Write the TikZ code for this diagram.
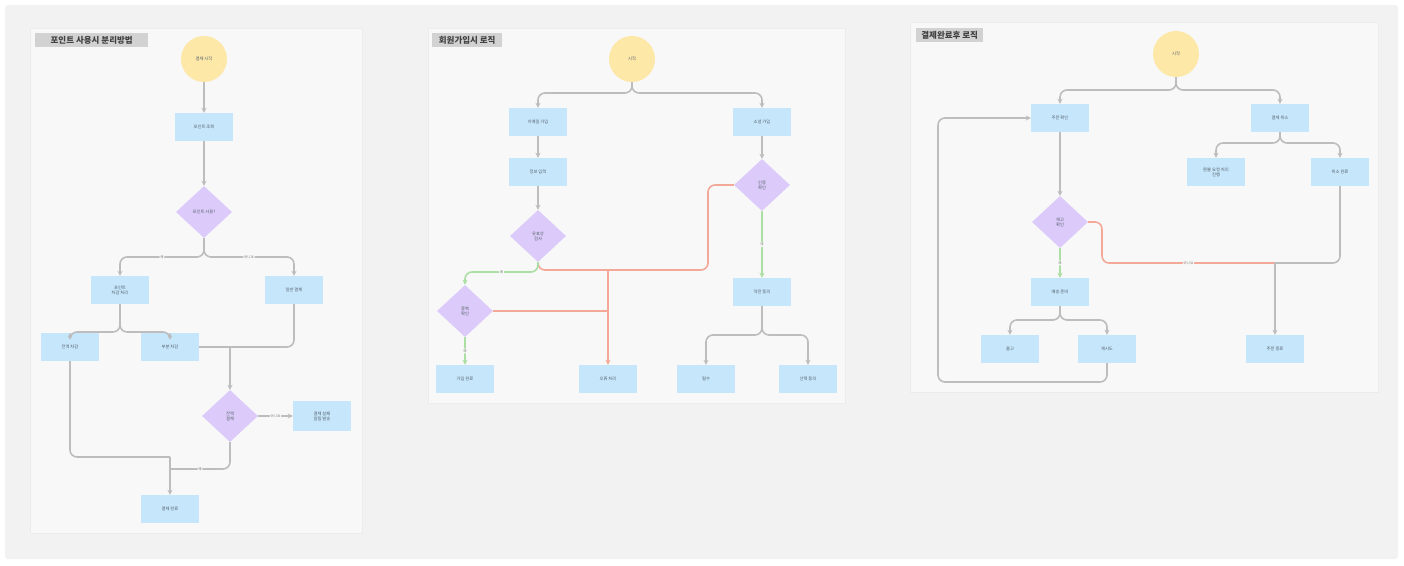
\documentclass[tikz,border=0pt]{standalone}
\usepackage{fontspec}
\setmainfont{Noto Sans CJK KR}
\usetikzlibrary{shapes.geometric,arrows.meta}
\definecolor{outerbg}{HTML}{F2F2F2}
\definecolor{panelbg}{HTML}{F8F8F8}
\definecolor{panelline}{HTML}{ECECEC}
\definecolor{boxblue}{HTML}{C6E6FB}
\definecolor{decpurple}{HTML}{DCCBFA}
\definecolor{termyellow}{HTML}{FDE8A8}
\definecolor{linegray}{HTML}{BDBDBD}
\definecolor{linered}{HTML}{F3A898}
\definecolor{linegreen}{HTML}{ABDFA4}
\definecolor{titlebg}{HTML}{D2D2D2}
\definecolor{txt}{HTML}{55616B}
\tikzset{
  x=1pt, y=-1pt,
  proc/.style={rectangle, fill=boxblue, minimum width=58pt, minimum height=28pt, inner sep=1pt, align=center, font=\fontsize{4.3}{5}\selectfont, text=txt},
  dec/.style={diamond, fill=decpurple, minimum width=56pt, minimum height=52pt, inner sep=0pt, align=center, font=\fontsize{4.3}{5}\selectfont, text=txt},
  term/.style={circle, fill=termyellow, minimum size=46pt, inner sep=0pt, font=\fontsize{4.3}{5}\selectfont, text=txt},
  conn/.style={draw=linegray, line width=1.6pt, rounded corners=7pt},
  arr/.style={conn, -{Stealth[length=5pt,width=5pt]}},
  redconn/.style={conn, draw=linered},
  redarr/.style={arr, draw=linered},
  greenarr/.style={arr, draw=linegreen},
  lbl/.style={font=\fontsize{3.5}{4}\selectfont, text=gray, fill=panelbg, inner sep=0.8pt},
  paneltitle/.style={fill=titlebg, font=\fontsize{8.5}{9.5}\selectfont\bfseries, text=black!75, inner xsep=2pt, inner ysep=2pt, minimum height=14pt, anchor=north west},
  panel/.style={fill=panelbg, draw=panelline, line width=0.6pt}
}
\begin{document}
\begin{tikzpicture}
\useasboundingbox (0,0) rectangle (1404,565);
\fill[white] (0,0) rectangle (1404,565);
\fill[outerbg, rounded corners=3pt] (5,5) rectangle (1398,559);
% panels
\path[panel] (30,28) rectangle (362,533);
\path[panel] (428,28) rectangle (845,403);
\path[panel] (910,22) rectangle (1378,392);
\node[paneltitle, minimum width=113pt] (t1) at (35,33) {포인트 사용시 분리방법};
\node[paneltitle, minimum width=70pt] (t2) at (432,33) {회원가입시 로직};
\node[paneltitle, minimum width=67pt] (t3) at (916,28) {결제완료후 로직};

% ---------- panel 1 ----------
\node[term] (s1) at (204,59) {결제 시작};
\node[proc] (p1a) at (204,127) {포인트 조회};
\node[dec] (d1a) at (204,212) {포인트 사용?};
\node[proc] (p1b) at (120,290) {포인트\\차감 처리};
\node[proc] (p1c) at (294,290) {일반 결제};
\node[proc] (p1d) at (70,347) {전액 차감};
\node[proc] (p1e) at (170,347) {부분 차감};
\node[dec] (d1b) at (230,416) {잔액\\결제};
\node[proc, minimum height=30pt] (p1f) at (322,416) {결제 실패\\알림 발송};
\node[proc] (p1g) at (170,509) {결제 완료};
\coordinate (j1) at (230,347);
\coordinate (j2) at (170,469);
\coordinate (j3) at (170,457);

\draw[arr] (s1) -- (p1a);
\draw[arr] (p1a) -- (d1a);
\draw[arr] (d1a.south) -- (204,257) -| node[lbl,pos=0.25]{예} (p1b.north);
\draw[arr] (d1a.south) -- (204,257) -| node[lbl,pos=0.25]{아니오} (p1c.north);
\draw[arr] (p1b.south) -- (120,332) -| (p1d.north);
\draw[arr] (p1b.south) -- (120,332) -| (p1e.north);
\draw[conn] (p1e.east) -- (j1);
\draw[conn] (p1c.south) |- (j1);
\draw[arr] (j1) -- (d1b.north);
\draw[arr] (d1b.east) -- node[lbl]{아니오} (p1f.west);
\draw[conn] (d1b.south) |- node[lbl,pos=0.75]{예} (j2);
\draw[conn] (p1d.south) |- (j3);
\draw[arr] (j3) -- (p1g.north);

% ---------- panel 2 ----------
\node[term] (s2) at (632,59) {시작};
\node[proc] (p2a) at (538,122) {이메일 가입};
\node[proc] (p2b) at (538,172) {정보 입력};
\node[dec] (d2a) at (538,236) {유효성\\검사};
\node[proc] (p2c) at (762,122) {소셜 가입};
\node[dec] (d2b) at (762,185) {인증\\확인};
\node[dec] (d2c) at (465,311) {중복\\확인};
\node[proc] (p2d) at (465,379) {가입 완료};
\node[proc] (p2e) at (608,379) {오류 처리};
\node[proc] (p2f) at (762,292) {약관 동의};
\node[proc] (p2g) at (706,379) {필수};
\node[proc] (p2h) at (808,379) {선택 동의};
\coordinate (j4) at (608,270);

\draw[arr] (s2.south) -- (632,93) -| (p2a.north);
\draw[arr] (s2.south) -- (632,93) -| (p2c.north);
\draw[arr] (p2a) -- (p2b);
\draw[arr] (p2b) -- (d2a);
\draw[arr] (p2c) -- (d2b);
\draw[redconn] (d2b.west) -- (708,185) -- (708,270) -- (j4);
\draw[redconn] (d2a.south) -- (538,270) -- (j4);
\draw[redconn] (d2c.east) -- (608,311);
\draw[redarr] (j4) -- (p2e.north);
\draw[greenarr] (d2a.south) -- (538,272) -| node[lbl,pos=0.25]{예} (d2c.north);
\draw[greenarr] (d2c.south) -- node[lbl]{예} (p2d.north);
\draw[greenarr] (d2b.south) -- node[lbl]{예} (p2f.north);
\draw[arr] (p2f.south) -- (762,335) -| (p2g.north);
\draw[arr] (p2f.south) -- (762,335) -| (p2h.north);

% ---------- panel 3 ----------
\node[term] (s3) at (1176,54) {시작};
\node[proc] (p3a) at (1060,118) {주문 확인};
\node[proc] (p3b) at (1280,118) {결제 취소};
\node[proc] (p3c) at (1216,172) {환불 요청 처리\\진행};
\node[proc] (p3d) at (1340,172) {취소 완료};
\node[dec] (d3a) at (1060,222) {재고\\확인};
\node[proc] (p3e) at (1060,292) {배송 준비};
\node[proc] (p3f) at (1010,349) {출고};
\node[proc] (p3g) at (1107,349) {재시도};
\node[proc] (p3h) at (1275,349) {주문 종료};
\coordinate (j5) at (1275,263);

\draw[arr] (s3.south) -- (1176,90) -| (p3a.north);
\draw[arr] (s3.south) -- (1176,90) -| (p3b.north);
\draw[arr] (p3b.south) -- (1280,143) -| (p3c.north);
\draw[arr] (p3b.south) -- (1280,143) -| (p3d.north);
\draw[arr] (p3a) -- (d3a);
\draw[redconn] (d3a.east) -- (1102,222) -- (1102,263) -- node[lbl,pos=0.5]{아니오} (j5);
\draw[conn] (p3d.south) |- (j5);
\draw[arr] (j5) -- (p3h.north);
\draw[greenarr] (d3a.south) -- node[lbl]{예} (p3e.north);
\draw[arr] (p3e.south) -- (1060,320) -| (p3f.north);
\draw[arr] (p3e.south) -- (1060,320) -| (p3g.north);
\draw[arr] (p3g.south) -- (1107,382) -- (938,382) -- (938,118) -- (p3a.west);
\end{tikzpicture}
\end{document}
